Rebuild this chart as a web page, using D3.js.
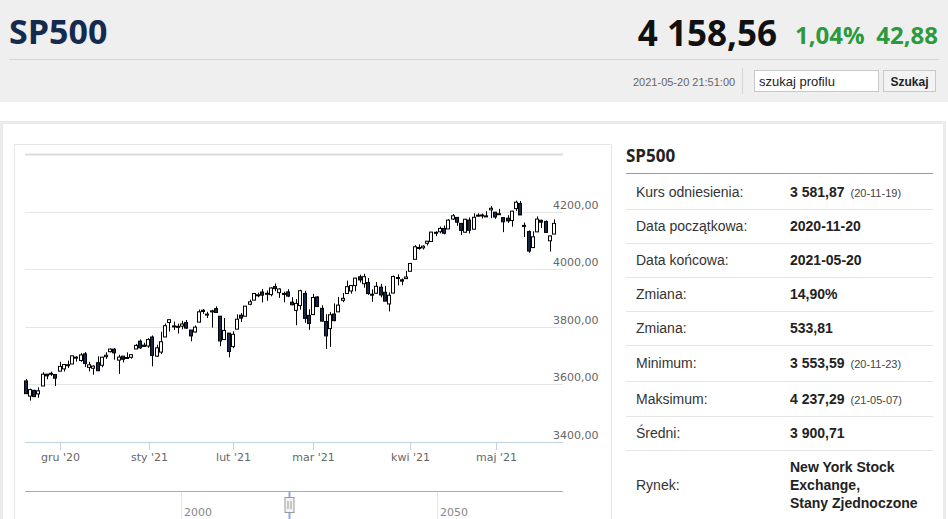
<!DOCTYPE html>
<html>
<head>
<meta charset="utf-8">
<script src="https://cdn.jsdelivr.net/npm/d3@7"></script>
<style>
  body { margin: 0; background: #fff; overflow: hidden; }
  svg { display: block; }
</style>
</head>
<body>
<div id="chart"></div>
<script>
// SP500 daily candles, 2020-11-18 .. 2021-05-20

const dates = [
  "2020-11-18","2020-11-19","2020-11-20","2020-11-23","2020-11-24","2020-11-25","2020-11-27","2020-11-30",
  "2020-12-01","2020-12-02","2020-12-03","2020-12-04","2020-12-07","2020-12-08","2020-12-09","2020-12-10","2020-12-11",
  "2020-12-14","2020-12-15","2020-12-16","2020-12-17","2020-12-18","2020-12-21","2020-12-22","2020-12-23","2020-12-24",
  "2020-12-28","2020-12-29","2020-12-30","2020-12-31",
  "2021-01-04","2021-01-05","2021-01-06","2021-01-07","2021-01-08","2021-01-11","2021-01-12","2021-01-13","2021-01-14",
  "2021-01-15","2021-01-19","2021-01-20","2021-01-21","2021-01-22","2021-01-25","2021-01-26","2021-01-27","2021-01-28","2021-01-29",
  "2021-02-01","2021-02-02","2021-02-03","2021-02-04","2021-02-05","2021-02-08","2021-02-09","2021-02-10","2021-02-11","2021-02-12",
  "2021-02-16","2021-02-17","2021-02-18","2021-02-19","2021-02-22","2021-02-23","2021-02-24","2021-02-25","2021-02-26",
  "2021-03-01","2021-03-02","2021-03-03","2021-03-04","2021-03-05","2021-03-08","2021-03-09","2021-03-10","2021-03-11","2021-03-12",
  "2021-03-15","2021-03-16","2021-03-17","2021-03-18","2021-03-19","2021-03-22","2021-03-23","2021-03-24","2021-03-25","2021-03-26",
  "2021-03-29","2021-03-30","2021-03-31",
  "2021-04-01","2021-04-05","2021-04-06","2021-04-07","2021-04-08","2021-04-09","2021-04-12","2021-04-13","2021-04-14","2021-04-15",
  "2021-04-16","2021-04-19","2021-04-20","2021-04-21","2021-04-22","2021-04-23","2021-04-26","2021-04-27","2021-04-28","2021-04-29","2021-04-30",
  "2021-05-03","2021-05-04","2021-05-05","2021-05-06","2021-05-07","2021-05-10","2021-05-11","2021-05-12","2021-05-13","2021-05-14",
  "2021-05-17","2021-05-18","2021-05-19","2021-05-20"
];

const opens = [
  3612.1,3559.4,3579.3,3566.8,3594.5,3635.5,3638.6,3634.2,
  3645.9,3653.8,3668.3,3670.9,3694.7,3683.1,3706.0,3659.1,3656.1,
  3675.3,3666.4,3696.3,3713.7,3722.4,3684.3,3698.1,3693.4,3694.0,
  3723.0,3750.0,3736.2,3733.3,
  3764.6,3698.0,3712.2,3764.7,3815.1,3803.1,3801.6,3802.2,3815.0,
  3788.7,3781.9,3816.2,3857.5,3844.2,3851.7,3863.0,3836.8,3755.8,3778.1,
  3731.2,3791.8,3840.3,3836.7,3878.3,3892.6,3910.5,3920.8,3916.4,3911.7,
  3939.6,3918.5,3915.9,3921.2,3885.6,3857.1,3873.7,3915.8,3839.7,
  3842.5,3903.6,3864.0,3818.5,3793.6,3844.4,3851.9,3892.0,3915.5,3924.5,
  3943.0,3973.6,3949.6,3953.5,3913.1,3916.5,3937.6,3919.9,3879.3,3917.1,
  3969.3,3963.3,3967.3,
  3992.8,4034.4,4075.6,4074.3,4090.0,4096.1,4124.7,4130.1,4141.6,4139.8,
  4174.1,4179.8,4159.2,4128.4,4170.5,4138.8,4185.0,4188.3,4185.1,4206.1,4198.1,
  4192.0,4179.0,4177.1,4169.1,4210.3,4228.3,4150.3,4130.6,4075.0,4129.6,
  4169.9,4165.9,4098.5,4122.0
];

const highs = [
  3619.1,3585.2,3581.2,3589.8,3642.3,3635.5,3644.3,3634.2,
  3678.5,3671.0,3682.7,3699.2,3697.4,3708.5,3712.4,3678.5,3665.9,
  3697.6,3695.3,3711.3,3725.1,3726.7,3702.9,3698.3,3711.2,3703.8,
  3740.5,3756.1,3744.6,3760.2,
  3770.0,3737.8,3783.0,3811.6,3826.7,3817.9,3810.8,3821.0,3823.6,
  3788.7,3804.5,3859.8,3861.5,3852.3,3859.2,3870.9,3836.8,3830.5,3778.1,
  3784.3,3843.1,3847.5,3872.4,3894.6,3915.8,3918.4,3931.5,3926.0,3937.2,
  3950.4,3933.6,3922.0,3930.4,3902.9,3896.0,3928.7,3925.0,3861.1,
  3914.5,3906.4,3874.5,3843.7,3851.7,3881.1,3903.8,3917.4,3960.3,3945.0,
  3970.1,3981.0,3983.9,3969.6,3930.1,3955.3,3949.1,3942.1,3919.5,3978.2,
  3981.8,3968.0,3994.4,
  4020.6,4083.4,4086.2,4083.1,4098.2,4129.5,4131.8,4148.0,4151.7,4173.5,
  4191.3,4180.8,4159.2,4175.0,4179.6,4194.2,4194.2,4193.4,4201.5,4218.8,4198.1,
  4209.4,4179.0,4187.7,4202.7,4238.0,4236.4,4162.0,4134.7,4131.6,4183.1,
  4171.9,4169.2,4116.9,4172.8
];

const lows = [
  3567.3,3543.8,3556.9,3553.6,3594.5,3617.8,3629.3,3594.4,
  3645.9,3644.8,3657.2,3670.9,3678.9,3678.8,3660.5,3645.2,3633.4,
  3645.8,3659.6,3688.6,3710.9,3685.8,3636.5,3676.2,3689.3,3689.3,
  3723.0,3723.3,3730.2,3726.9,
  3662.7,3695.1,3705.3,3764.7,3783.6,3789.0,3776.5,3791.5,3792.9,
  3749.6,3780.4,3816.2,3845.1,3830.4,3797.2,3847.8,3732.5,3755.8,3694.1,
  3725.6,3791.8,3816.7,3836.7,3874.9,3892.6,3902.6,3884.9,3890.4,3905.8,
  3923.9,3900.4,3885.0,3903.1,3874.7,3805.6,3859.6,3814.0,3789.5,
  3842.5,3868.6,3818.9,3723.3,3730.2,3819.3,3851.9,3885.7,3915.5,3915.2,
  3923.5,3953.4,3935.7,3910.9,3886.8,3914.2,3901.8,3889.1,3853.5,3917.1,
  3943.3,3944.4,3967.0,
  3992.8,4034.4,4068.1,4068.3,4082.5,4095.5,4114.8,4124.4,4120.9,4139.8,
  4170.8,4150.5,4118.4,4126.4,4123.7,4138.8,4182.4,4176.2,4181.8,4176.8,4174.9,
  4188.0,4128.6,4160.9,4147.3,4201.6,4188.1,4111.5,4056.9,4075.0,4129.6,
  4142.7,4126.0,4061.4,4122.0
];

const closes = [
  3567.8,3581.9,3557.5,3577.6,3635.4,3629.7,3638.4,3621.6,
  3662.5,3669.0,3666.7,3699.1,3692.0,3702.3,3672.8,3668.1,3663.5,
  3647.5,3694.6,3701.2,3722.5,3709.4,3694.9,3687.3,3690.0,3703.1,
  3735.4,3727.0,3732.0,3756.1,
  3700.7,3726.9,3748.1,3803.8,3824.7,3799.6,3801.2,3809.8,3795.5,
  3768.3,3798.9,3851.9,3853.1,3841.5,3855.4,3849.6,3750.8,3787.4,3714.2,
  3773.9,3826.3,3830.2,3871.7,3886.8,3915.6,3911.2,3909.9,3916.4,3934.8,
  3932.6,3931.3,3914.0,3906.7,3876.5,3881.4,3925.4,3829.3,3811.2,
  3901.8,3870.3,3819.7,3768.5,3841.9,3821.4,3875.4,3898.8,3939.3,3943.3,
  3968.9,3962.7,3974.1,3915.5,3913.1,3940.6,3910.5,3889.1,3909.5,3974.5,
  3971.1,3958.6,3972.9,
  4019.9,4077.9,4073.9,4080.0,4097.2,4128.8,4128.0,4141.6,4124.7,4170.4,
  4185.5,4163.3,4134.9,4173.4,4135.0,4180.2,4187.6,4186.7,4183.2,4211.5,4181.2,
  4192.7,4164.7,4167.6,4201.6,4232.6,4188.4,4152.1,4063.0,4112.5,4173.9,
  4163.3,4127.8,4115.7,4159.1
];

const yTicks = [3400, 3600, 3800, 4000, 4200, 4400];
const monthStarts = ["2020-12-01", "2021-01-01", "2021-02-01", "2021-03-01", "2021-04-01", "2021-05-01"];
const monthLabels = ["gru '20", "sty '21", "lut '21", "mar '21", "kwi '21", "maj '21"];
const navYears = [2000, 2050];

const infoLabels = ["Kurs odniesienia:", "Data początkowa:", "Data końcowa:", "Zmiana:", "Zmiana:",
  "Minimum:", "Maksimum:", "Średni:"];
const infoValues = ["3 581,87", "2020-11-20", "2021-05-20", "14,90%", "533,81",
  "3 553,59", "4 237,29", "3 900,71"];
const infoNotes = ["(20-11-19)", "", "", "", "", "(20-11-23)", "(21-05-07)", ""];
const marketLines = ["New York Stock", "Exchange,", "Stany Zjednoczone"];

// page

const W = 948, H = 519;
const svg = d3.select("#chart").append("svg")
    .attr("width", W)
    .attr("height", H);

const hdrFont = "'Open Sans', 'Noto Sans', sans-serif";
const txtFont = "'Liberation Sans', Arial, sans-serif";
const axFont = "'DejaVu Sans', Verdana, sans-serif";

// header
svg.append("rect").attr("width", W).attr("height", 102).attr("fill", "#efefef");

svg.append("text")
    .attr("x", 9).attr("y", 44)
    .attr("font-family", hdrFont).attr("font-weight", 700).attr("font-size", 34)
    .attr("fill", "#132b4f")
    .text("SP500");

svg.append("text")
    .attr("x", 777).attr("y", 46).attr("text-anchor", "end")
    .attr("font-family", hdrFont).attr("font-weight", 700).attr("font-size", 35)
    .attr("fill", "#111")
    .text("4 158,56");

svg.append("text")
    .attr("x", 795).attr("y", 44)
    .attr("font-family", hdrFont).attr("font-weight", 700).attr("font-size", 24)
    .attr("fill", "#2b9a3d")
    .text("1,04%");

svg.append("text")
    .attr("x", 938).attr("y", 44).attr("text-anchor", "end")
    .attr("font-family", hdrFont).attr("font-weight", 700).attr("font-size", 24)
    .attr("fill", "#2b9a3d")
    .text("42,88");

svg.append("line")
    .attr("x1", 9).attr("x2", 939).attr("y1", 59.5).attr("y2", 59.5)
    .attr("stroke", "#d5d5d5");

svg.append("text")
    .attr("x", 633).attr("y", 86)
    .attr("font-family", txtFont).attr("font-size", 11)
    .attr("fill", "#666")
    .text("2021-05-20 21:51:00");

svg.append("line")
    .attr("x1", 742.5).attr("x2", 742.5).attr("y1", 68).attr("y2", 94)
    .attr("stroke", "#d5d5d5");

svg.append("rect")
    .attr("x", 754.5).attr("y", 70.5).attr("width", 124).attr("height", 21)
    .attr("fill", "#fff").attr("stroke", "#c8c8c8");
svg.append("text")
    .attr("x", 759).attr("y", 85.5)
    .attr("font-family", txtFont).attr("font-size", 13)
    .attr("fill", "#222")
    .text("szukaj profilu");

svg.append("rect")
    .attr("x", 883.5).attr("y", 70.5).attr("width", 52).attr("height", 21)
    .attr("fill", "#f3f3f3").attr("stroke", "#c8c8c8");
svg.append("text")
    .attr("x", 909.5).attr("y", 85.5).attr("text-anchor", "middle")
    .attr("font-family", txtFont).attr("font-weight", 700).attr("font-size", 12)
    .attr("fill", "#222")
    .text("Szukaj");

// content panel + chart box
svg.append("rect")
    .attr("x", 1.5).attr("y", 122.5).attr("width", 943).attr("height", 420)
    .attr("fill", "#fff").attr("stroke", "#ebebeb").attr("stroke-width", 3);

svg.append("rect")
    .attr("x", 14.5).attr("y", 144.5).attr("width", 597).attr("height", 400)
    .attr("fill", "#fff").attr("stroke", "#e6e6e6");

// scales

const plotLeft = 25, plotRight = 563;
const x = d3.scaleLinear()
    .domain([0, dates.length - 1])
    .range([25.7, 554]);

const y = d3.scaleLinear()
    .domain([3400, 4400])
    .range([442, 154]);

const parse = d3.timeParse("%Y-%m-%d");
const times = dates.map(parse);

// ordinal position of a calendar date (interpolated between trading days)
function ordinalIndex(d) {
  const t = parse(d);
  const i = d3.bisectLeft(times, t);
  if (i === 0) return 0;
  if (+times[i] === +t) return i;
  const a = times[i - 1], b = times[i];
  return i - 1 + (t - a) / (b - a);
}

// gridlines
const grid = svg.append("g");
grid.selectAll("line")
  .data(yTicks)
  .join("line")
    .attr("x1", plotLeft).attr("x2", plotRight)
    .attr("y1", d => Math.round(y(d)) + 0.5)
    .attr("y2", d => Math.round(y(d)) + 0.5)
    .attr("stroke", d => d === 4400 ? "#dcdcdc" : "#e6e6e6")
    .attr("stroke-width", d => d === 4400 ? 2 : 1);

// y labels (right side, above lines)
svg.append("g").selectAll("text")
  .data(yTicks.filter(d => d < 4400))
  .join("text")
    .attr("x", 553)
    .attr("y", d => Math.round(y(d)) - 3)
    .attr("font-family", axFont).attr("font-size", 11)
    .attr("fill", "#666")
    .text(d => d3.format(".2f")(d).replace(".", ","));

// x axis
svg.append("line")
    .attr("x1", plotLeft).attr("x2", plotRight).attr("y1", 442.5).attr("y2", 442.5)
    .attr("stroke", "#c0d0e0");

const xt = svg.append("g").selectAll("g")
  .data(monthStarts)
  .join("g")
    .attr("transform", d => `translate(${Math.round(x(ordinalIndex(d))) + 0.5},0)`);

xt.append("line")
    .attr("y1", 442).attr("y2", 450)
    .attr("stroke", "#c0d0e0");

xt.append("text")
    .attr("y", 461)
    .attr("text-anchor", "middle")
    .attr("font-family", axFont).attr("font-size", 11)
    .attr("fill", "#666")
    .text((d, i) => monthLabels[i]);

// candles

const candles = svg.append("g").selectAll("g")
  .data(dates.map((d, i) => i))
  .join("g");

candles.append("line")
    .attr("x1", i => Math.round(x(i)) + 0.5)
    .attr("x2", i => Math.round(x(i)) + 0.5)
    .attr("y1", i => y(highs[i]))
    .attr("y2", i => y(lows[i]))
    .attr("stroke", "#000");

candles.append("rect")
    .attr("x", i => Math.round(x(i)) - 1.5)
    .attr("y", i => y(Math.max(opens[i], closes[i])))
    .attr("width", 3)
    .attr("height", i => Math.max(1, Math.abs(y(opens[i]) - y(closes[i]))))
    .attr("fill", i => closes[i] >= opens[i] ? "#fff" : "#14284b")
    .attr("stroke", "#000");

// navigator

const nav = d3.scaleLinear()
    .domain([2000, 2050])
    .range([181, 437]);

svg.append("g").selectAll("line")
  .data(navYears)
  .join("line")
    .attr("x1", d => Math.round(nav(d)) + 0.5)
    .attr("x2", d => Math.round(nav(d)) + 0.5)
    .attr("y1", 491).attr("y2", H)
    .attr("stroke", "#e6e6e6");

svg.append("g").selectAll("text")
  .data(navYears)
  .join("text")
    .attr("x", d => nav(d) + 3)
    .attr("y", 516)
    .attr("font-family", axFont).attr("font-size", 11)
    .attr("fill", "#888")
    .text(d => d);

svg.append("line")
    .attr("x1", plotLeft).attr("x2", plotRight).attr("y1", 491.5).attr("y2", 491.5)
    .attr("stroke", "#aaa");

const handleX = 289.5;
svg.append("line")
    .attr("x1", handleX).attr("x2", handleX).attr("y1", 491).attr("y2", H)
    .attr("stroke", "#8fa8d6").attr("stroke-width", 2);
svg.append("rect")
    .attr("x", handleX - 4.5).attr("y", 497.5).attr("width", 9).attr("height", 15)
    .attr("fill", "#f2f2f2").attr("stroke", "#999");
svg.append("line")
    .attr("x1", handleX - 1.5).attr("x2", handleX - 1.5).attr("y1", 501).attr("y2", 509)
    .attr("stroke", "#999");
svg.append("line")
    .attr("x1", handleX + 1.5).attr("x2", handleX + 1.5).attr("y1", 501).attr("y2", 509)
    .attr("stroke", "#999");

// info table

svg.append("text")
    .attr("x", 626).attr("y", 162)
    .attr("font-family", hdrFont).attr("font-weight", 700).attr("font-size", 17)
    .attr("fill", "#222")
    .text("SP500");

svg.append("line")
    .attr("x1", 626).attr("x2", 933).attr("y1", 173.5).attr("y2", 173.5)
    .attr("stroke", "#999");

const rowY = [192, 226, 260, 294, 328, 363, 399, 433];
const sepY = [209, 243, 277, 311, 345, 381, 416, 450];

svg.append("g").selectAll("line")
  .data(sepY)
  .join("line")
    .attr("x1", 626).attr("x2", 933)
    .attr("y1", d => d + 0.5).attr("y2", d => d + 0.5)
    .attr("stroke", "#e5e5e5");

const rows = svg.append("g").selectAll("g")
  .data(infoLabels)
  .join("g")
    .attr("transform", (d, i) => `translate(0,${rowY[i] + 5})`);

rows.append("text")
    .attr("x", 636)
    .attr("font-family", txtFont).attr("font-size", 14)
    .attr("fill", "#333")
    .text(d => d);

rows.append("text")
    .attr("x", 790)
    .attr("font-family", txtFont).attr("font-weight", 700).attr("font-size", 14)
    .attr("fill", "#222")
    .text((d, i) => infoValues[i])
  .append("tspan")
    .attr("dx", 6)
    .attr("font-weight", 400).attr("font-size", 11)
    .attr("fill", "#444")
    .text((d, i) => infoNotes[i]);

svg.append("text")
    .attr("x", 636).attr("y", 490)
    .attr("font-family", txtFont).attr("font-size", 14)
    .attr("fill", "#333")
    .text("Rynek:");

svg.append("g").selectAll("text")
  .data(marketLines)
  .join("text")
    .attr("x", 790)
    .attr("y", (d, i) => 472 + i * 18)
    .attr("font-family", txtFont).attr("font-weight", 700).attr("font-size", 14)
    .attr("fill", "#222")
    .text(d => d);
</script>
</body>
</html>
